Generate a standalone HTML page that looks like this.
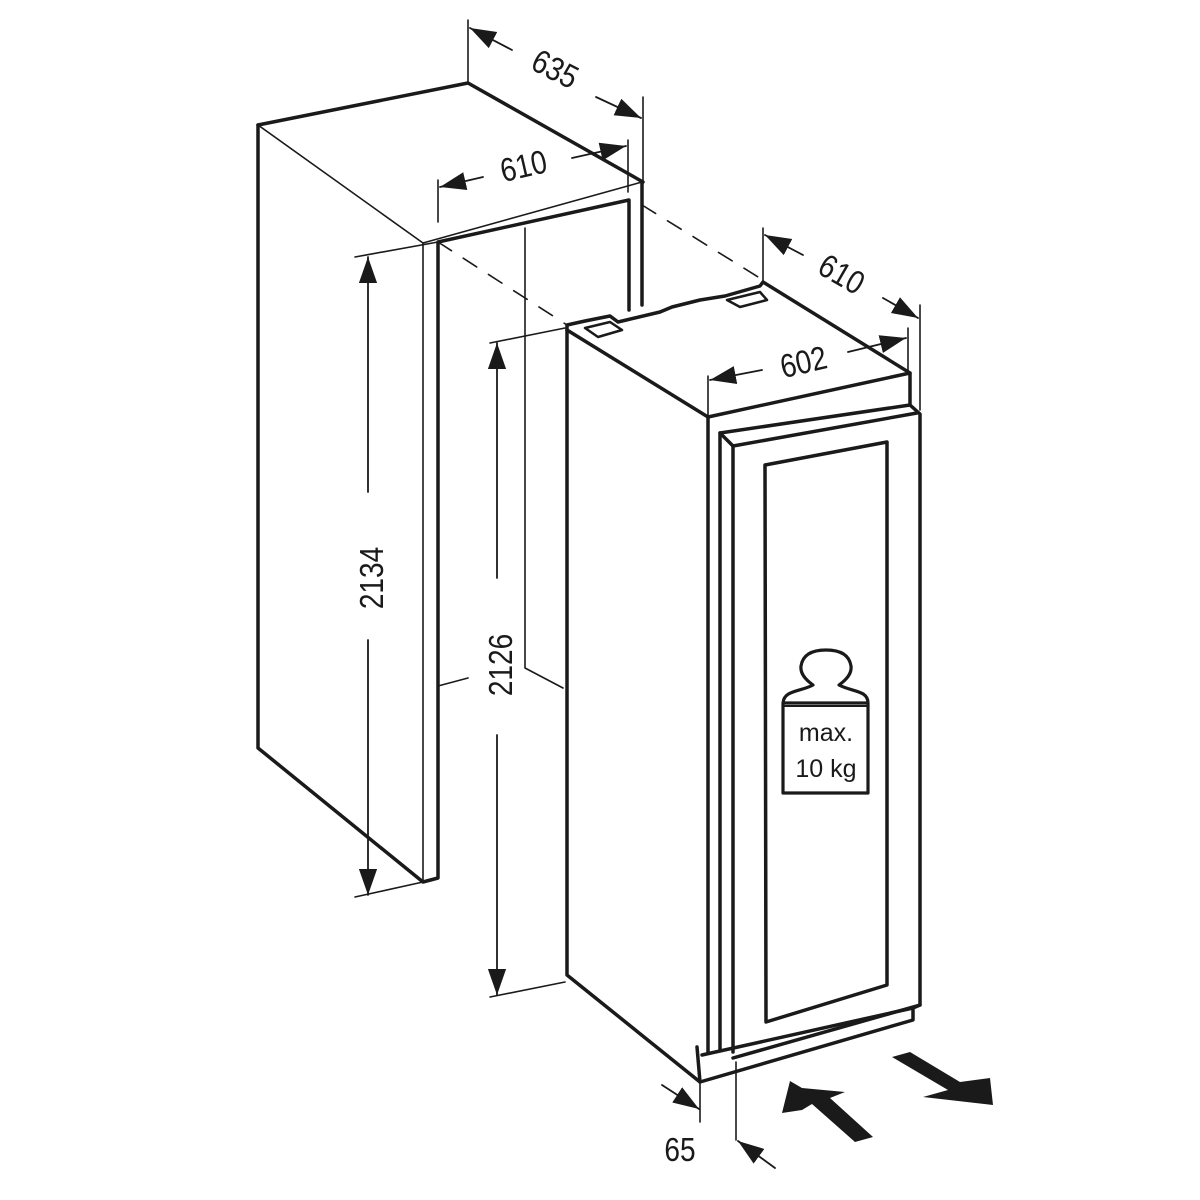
<!DOCTYPE html>
<html><head><meta charset="utf-8"><style>
html,body{margin:0;padding:0;background:#fff}
svg{display:block}
text{font-family:"Liberation Sans",sans-serif;fill:#1a1a1a}
</style></head><body>
<svg width="1200" height="1200" viewBox="0 0 1200 1200" xmlns="http://www.w3.org/2000/svg">
<defs>
<marker id="a" viewBox="0 0 10 10" refX="10" refY="5" markerWidth="26" markerHeight="26" markerUnits="userSpaceOnUse" orient="auto-start-reverse">
<path d="M0,1.5 L10,5 L0,8.5 Z" fill="#1a1a1a"/></marker>
</defs>
<g stroke="#1a1a1a" fill="none" stroke-linecap="round" stroke-linejoin="round">
<g stroke-width="3.5">
<path d="M258,125 L468,83 L643,182"/>
<path d="M258,125 L258,748 L423,882 L438,878 L438,242 L629,200 L629,310"/>
<path d="M642,183 L642,305"/>
</g>
<g stroke-width="1.6">
<path d="M258,125 L423,243 L423,882"/>
<path d="M423,243 L642,182"/>
<path d="M525,228 L525,668 L563,688"/>
<path d="M438,686 L468,678"/>
<path d="M468,20 L468,82"/>
<path d="M643,97 L643,183"/>
<path d="M438,180 L438,222"/>
<path d="M628,140 L628,192"/>
<path d="M763,228 L763,282"/>
<path d="M920,305 L920,410"/>
<path d="M708,376 L708,416"/>
<path d="M908,328 L908,372"/>
<path d="M355,257 L438,242"/>
<path d="M355,897 L423,882"/>
<path d="M490,343 L565,328"/>
<path d="M490,997 L565,982"/>
<path d="M700,1082 L700,1122"/>
<path d="M736,1062 L736,1140"/>
<path d="M438,242 L567,325" stroke-dasharray="16,14"/>
<path d="M642,205 L763,280" stroke-dasharray="16,14"/>
</g>
<g stroke-width="3.5">
<path d="M567,325 L585,321 L610,316 L618,322 L660,312 L672,307 L700,300 L725,296 L760,286 L763,282 L910,373 L910,405 L920,414 L920,1005 L913,1008 L913,1020 L700,1082 L567,975 L567,325"/>
<path d="M567,330 L708,417 L910,373"/>
<path d="M708,417 L708,1052"/>
<path d="M720,433 L910,405"/>
<path d="M720,433 L720,1050"/>
<path d="M722,435 L733,446 L917,413"/>
<path d="M733,446 L733,1052"/>
<path d="M733,1058 L920,1005"/>
<path d="M697,1047 L700,1082"/>
<path d="M702,1055 L913,1008"/>
<path d="M765,465 L887,442 L887,985 L766,1022 Z"/>
<path d="M585,328 L610,322 L622,330 L598,337 Z" stroke-width="2.5"/>
<path d="M727,300 L760,292 L767,300 L740,307 Z" stroke-width="2.5"/>
</g>
<path d="M783,703 L868,703 L868,793 L783,793 Z M783,703 C784,690 800,692 813,685 C806,680 800,674 801,666 C803,653 815,650 826,650 C837,650 849,653 851,666 C852,674 846,680 839,685 C852,692 868,690 868,703" stroke-width="3.2"/>
<path d="M783,706 L868,706" stroke-width="2"/>
<g stroke-width="1.8">
<path d="M368,492 L368,257" marker-end="url(#a)"/>
<path d="M368,640 L368,895" marker-end="url(#a)"/>
<path d="M497,578 L497,343" marker-end="url(#a)"/>
<path d="M497,735 L497,995" marker-end="url(#a)"/>
<path d="M512,50 L470,28" marker-end="url(#a)"/>
<path d="M596,97 L641,118" marker-end="url(#a)"/>
<path d="M483,177 L440,187" marker-end="url(#a)"/>
<path d="M572,158 L626,146" marker-end="url(#a)"/>
<path d="M803,255 L765,235" marker-end="url(#a)"/>
<path d="M883,298 L918,318" marker-end="url(#a)"/>
<path d="M762,370 L710,380" marker-end="url(#a)"/>
<path d="M848,352 L906,338" marker-end="url(#a)"/>
<path d="M662,1085 L699,1109" marker-end="url(#a)"/>
<path d="M775,1168 L738,1141" marker-end="url(#a)"/>
</g>
</g>
<path d="M782,1113 L790,1081 L802,1088 L845,1092 L830,1098 L873,1137 L855,1142 L812,1104 L802,1110 Z" fill="#1a1a1a"/>
<path d="M892,1057 L910,1052 L960,1082 L990,1078 L993,1105 L923,1097 L948,1090 Z" fill="#1a1a1a"/>
<g font-size="33">
<text text-anchor="middle" transform="translate(550,79) rotate(27) scale(0.85,1)">635</text>
<text text-anchor="middle" transform="translate(526,177) rotate(-13) scale(0.85,1)">610</text>
<text text-anchor="middle" transform="translate(836,284) rotate(30) scale(0.85,1)">610</text>
<text text-anchor="middle" transform="translate(806,373) rotate(-13) scale(0.85,1)">602</text>
<text text-anchor="middle" transform="translate(383,578) rotate(-90) scale(0.85,1)">2134</text>
<text text-anchor="middle" transform="translate(512,665) rotate(-90) scale(0.85,1)">2126</text>
<text text-anchor="middle" transform="translate(680,1161) scale(0.85,1)">65</text>
</g>
<text x="826" y="741" font-size="25" text-anchor="middle">max.</text>
<text x="826" y="777" font-size="25" text-anchor="middle">10 kg</text>
</svg>
</body></html>
